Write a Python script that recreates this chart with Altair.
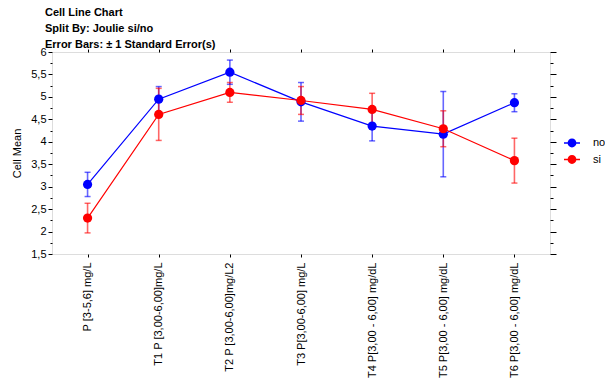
import altair as alt
import pandas as pd

# Time points (x categories)
categories = [
    "P [3-5,6] mg/L",
    "T1 P [3,00-6,00]mg/L",
    "T2 P [3,00-6,00]mg/L2",
    "T3 P[3,00-6,00] mg/L",
    "T4 P[3,00 - 6,00] mg/dL",
    "T5 P[3,00 - 6,00] mg/dL",
    "T6 P[3,00 - 6,00] mg/dL",
]

# Cell means and standard errors per group
groups = ["no", "si"]
mean_no = [3.05, 4.95, 5.55, 4.89, 4.35, 4.17, 4.87]
se_no = [0.27, 0.28, 0.27, 0.43, 0.33, 0.95, 0.20]
mean_si = [2.30, 4.61, 5.10, 4.92, 4.72, 4.29, 3.58]
se_si = [0.33, 0.58, 0.22, 0.31, 0.36, 0.40, 0.50]

colors = ["#0000ff", "#ff0000"]

rows = []
for g, means, ses in (("no", mean_no, se_no), ("si", mean_si, se_si)):
    for c, m, s in zip(categories, means, ses):
        rows.append({"cat": c, "grp": g, "mean": m, "lo": m - s, "hi": m + s})
df = pd.DataFrame(rows)

FONT = "Liberation Sans"
Y_DOMAIN = [1.5, 6]
y_values = [1.5 + 0.25 * i for i in range(19)]

x_scale = alt.Scale(domain=categories, type="point", padding=0.5)
y_scale = alt.Scale(domain=Y_DOMAIN, nice=False, zero=False)
color_scale = alt.Scale(domain=groups, range=colors)

minor_test = "(datum.value * 4) % 2 != 0"
label_expr = (
    "(datum.value * 4) % 2 != 0 ? '' : "
    "replace(format(datum.value, '.1~f'), '.', ',')"
)

# Filled legend glyph: two thin bars either side of a dot (line with marker)
LEGEND_GLYPH = (
    "M-1,-0.085H-0.5V0.085H-1Z "
    "M0.5,-0.085H1V0.085H0.5Z "
    "M-0.55,0A0.55,0.55,0,1,1,0.55,0A0.55,0.55,0,1,1,-0.55,0Z"
)
group_legend = alt.Legend(
    title=None,
    orient="none",
    legendX=512,
    legendY=83,
    symbolType=LEGEND_GLYPH,
    symbolSize=256,
    symbolStrokeWidth=0,
    labelFont=FONT,
    labelFontSize=11,
    labelColor="#000000",
    labelOffset=13,
    rowPadding=3.5,
    padding=0,
)

x_bottom = alt.X(
    "cat:N",
    sort=categories,
    scale=x_scale,
    axis=alt.Axis(
        title=None,
        orient="bottom",
        labelAngle=-90,
        labelFont=FONT,
        labelFontSize=11,
        labelColor="#000000",
        tickSize=3,
        tickColor="#000000",
        domain=False,
        labelPadding=5,
    ),
)
y_left = alt.Y(
    "mean:Q",
    scale=y_scale,
    axis=alt.Axis(
        title="Cell Mean",
        orient="left",
        values=y_values,
        labelExpr=label_expr,
        labelOverlap=False,
        tickSize={"condition": {"test": minor_test, "value": 2}, "value": 4},
        tickColor="#000000",
        domain=False,
        grid=False,
        labelFont=FONT,
        labelFontSize=11,
        labelColor="#000000",
        labelPadding=2,
        titleFont=FONT,
        titleFontSize=11,
        titleFontWeight="normal",
        titleColor="#000000",
        titlePadding=8,
    ),
)

base = alt.Chart(df)

err = base.mark_rule(strokeWidth=1.6, opacity=0.6).encode(
    x=x_bottom,
    y=alt.Y("lo:Q", scale=y_scale, axis=None),
    y2="hi:Q",
    color=alt.Color("grp:N", scale=color_scale, legend=None),
)
cap_lo = base.mark_tick(size=6, thickness=1.5, opacity=0.6, orient="horizontal").encode(
    x=alt.X("cat:N", sort=categories, scale=x_scale, axis=None),
    y=alt.Y("lo:Q", scale=y_scale, axis=None),
    color=alt.Color("grp:N", scale=color_scale, legend=None),
)
cap_hi = base.mark_tick(size=6, thickness=1.5, opacity=0.6, orient="horizontal").encode(
    x=alt.X("cat:N", sort=categories, scale=x_scale, axis=None),
    y=alt.Y("hi:Q", scale=y_scale, axis=None),
    color=alt.Color("grp:N", scale=color_scale, legend=None),
)
lines = base.mark_line(strokeWidth=1.2).encode(
    x=alt.X("cat:N", sort=categories, scale=x_scale, axis=None),
    y=y_left,
    color=alt.Color("grp:N", scale=color_scale, legend=None),
    detail="grp:N",
)
points = base.mark_point(filled=True, size=85, opacity=1).encode(
    x=alt.X(
        "cat:N",
        sort=categories,
        scale=x_scale,
        axis=alt.Axis(
            title=None,
            orient="top",
            labels=False,
            tickSize=3,
            tickColor="#000000",
            domain=False,
        ),
    ),
    y=alt.Y(
        "mean:Q",
        scale=y_scale,
        axis=alt.Axis(
            title=None,
            orient="right",
            values=y_values,
            labels=False,
            tickSize={"condition": {"test": minor_test, "value": 3}, "value": 6},
            tickColor="#000000",
            domain=False,
            grid=False,
        ),
    ),
    color=alt.Color("grp:N", scale=color_scale, legend=group_legend),
)

chart = (
    alt.layer(err, cap_lo, cap_hi, lines, points)
    .resolve_axis(x="independent", y="independent")
    .resolve_legend(color="independent")
    .properties(
        width=498,
        height=202,
        autosize=alt.AutoSizeParams(type="none"),
        padding={"left": 52, "top": 52, "right": 55, "bottom": 127},
        title=alt.TitleParams(
            text=[
                "Cell Line Chart",
                "Split By: Joulie si/no",
                "Error Bars: \u00b1 1 Standard Error(s)",
            ],
            anchor="start",
            frame="group",
            font=FONT,
            fontSize=11,
            fontWeight="bold",
            color="#000000",
            lineHeight=16,
            baseline="bottom",
            offset=1,
            dx=-7,
            dy=16,
        ),
    )
    .configure_view(stroke="#222222", strokeWidth=1.3)
    .configure(background="white")
)

chart.save("out.html", embed_options={"renderer": "svg", "actions": False})
